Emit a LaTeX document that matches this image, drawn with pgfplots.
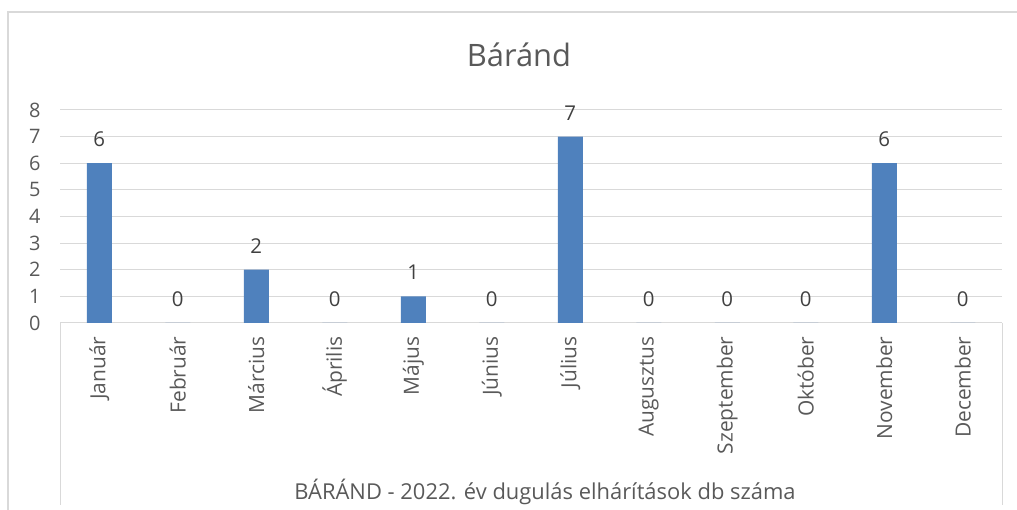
\documentclass[border=0pt]{standalone}
\usepackage{fontspec}
\setmainfont{Open Sans}
\usepackage{pgfplots}
\pgfplotsset{compat=1.18}
\definecolor{barblue}{HTML}{4F81BD}
\definecolor{gridgray}{HTML}{D9D9D9}
\definecolor{txt}{HTML}{595959}
\definecolor{lbl}{HTML}{404040}
\begin{document}
\begin{tikzpicture}[x=1bp,y=1bp]
\useasboundingbox (0,0) rectangle (1017,510);
\draw[gridgray, line width=1.3bp] (8,-5) -- (8,498) -- (1025,498);
\draw[gridgray, line width=1bp] (60,187) -- (60,5);
\draw[gridgray, line width=1bp] (1002,187) -- (1002,5);
\node[text=txt, font=\fontsize{31}{36}\selectfont] at (519,455) {Báránd};
\node[text=txt, font=\fontsize{22}{26}\selectfont] at (545,18) {BÁRÁND - 2022. év dugulás elhárítások db száma};
\begin{axis}[
 at={(60bp,187bp)}, anchor=south west,
 scale only axis, width=942bp, height=213bp,
 xmin=-0.5, xmax=11.5, ymin=0, ymax=8,
 ytick={0,...,8},
 xtick={0,...,11},
 xticklabels={Január,Február,Március,Április,Május,Június,Július,Augusztus,Szeptember,Október,November,December},
 axis line style={draw=none},
 major tick length=0pt,
 ymajorgrids, grid style={gridgray, line width=1bp},
 yticklabel style={font=\fontsize{20}{24}\selectfont, text=txt},
 xticklabel style={font=\fontsize{21}{25}\selectfont, text=txt, rotate=90, anchor=east},
 xticklabel shift=10bp,
 yticklabel shift=16bp,
 /pgf/number format/assume math mode=true,
 ybar, bar width=25bp,
 nodes near coords,
 every node near coord/.append style={font=\fontsize{20.5}{24}\selectfont, text=lbl, yshift=13bp},
 clip=false,
]
\addplot[fill=barblue, draw=none] coordinates {(0,6)(1,0)(2,2)(3,0)(4,1)(5,0)(6,7)(7,0)(8,0)(9,0)(10,6)(11,0)};
\end{axis}
\end{tikzpicture}
\end{document}
